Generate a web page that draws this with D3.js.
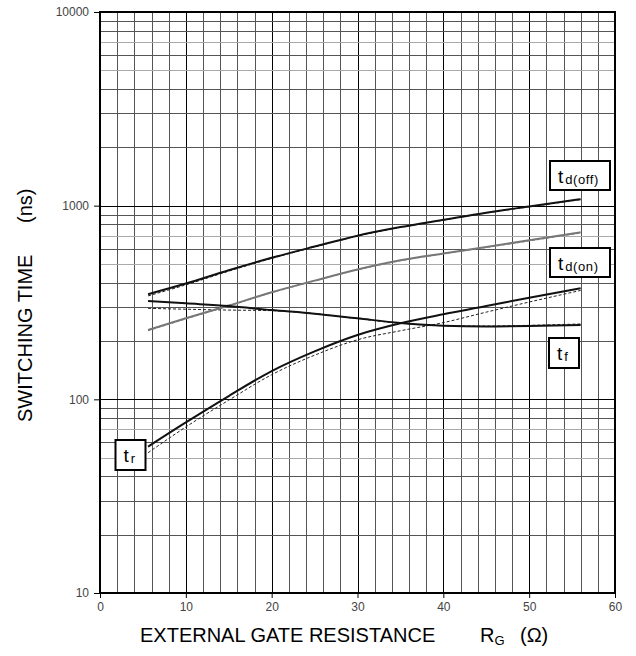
<!DOCTYPE html>
<html><head><meta charset="utf-8">
<script src="https://cdn.jsdelivr.net/npm/d3@7"></script>
<style>
body{margin:0;background:#fff}
svg{display:block}
text{font-family:"Liberation Sans",Arial,sans-serif}
</style>
</head><body>
<svg id="c" width="636" height="656"></svg>
<script>
// ---- data ----
const rg        = [5.6, 10, 15, 20, 25, 30, 35, 40, 45, 50, 56];
const tdOff     = [349, 396, 464, 538, 615, 700, 775, 845, 920, 990, 1080];
const tdOffDash = [342, 390, 459, 534, 612, 697, 772, 842, 917, 986, 1075];
const tdOn      = [228, 262, 305, 357, 410, 468, 522, 567, 612, 662, 729];
const tdOnDash  = [226, 260, 303, 355, 408, 466, 519, 564, 608, 657, 722];
const tf        = [322, 313, 303, 289, 277, 262, 248, 240, 238, 239, 242];
const tfDash    = [295, 292, 289, 287, 277, 261, 247, 240, 239, 241, 245];
const tr        = [57, 76, 104, 140, 177, 215, 247, 275, 303, 335, 375];
const trDash    = [53, 72, 99, 134, 169, 203, 226, 249, 282, 318, 365];
const xTickLabels = [0, 10, 20, 30, 40, 50, 60];
const yTickLabels = [10, 100, 1000, 10000];

const svg = d3.select("#c");
const L = 100, R = 615, T = 12, B = 593;
const x = d3.scaleLinear().domain([0, 60]).range([L, R]);
const y = d3.scaleLog().domain([10, 10000]).range([B, T]);
const px = v => Math.round(x(v)) + 0.5;
const py = v => Math.round(y(v)) + 0.5;

const grid = svg.append("g");
// vertical grid
d3.range(2, 60, 2).forEach(v => {
  const major = v % 10 === 0;
  grid.append("line").attr("x1", px(v)).attr("x2", px(v)).attr("y1", T).attr("y2", B)
    .attr("stroke", major ? "#000" : "#555").attr("stroke-width", 1);
});
// horizontal grid
[10, 100, 1000].forEach(d => {
  d3.range(2, 10).forEach(k => {
    const v = k * d;
    const light = (k === 5 || k === 7);
    grid.append("line").attr("x1", L).attr("x2", R).attr("y1", py(v)).attr("y2", py(v))
      .attr("stroke", light ? "#aaa" : "#555").attr("stroke-width", 1);
  });
});
[100, 1000].forEach(v => {
  grid.append("line").attr("x1", L).attr("x2", R).attr("y1", py(v)).attr("y2", py(v))
    .attr("stroke", "#000").attr("stroke-width", 1);
});

// axes
const xAxis = d3.axisBottom(x).tickValues(xTickLabels).tickSize(5).tickPadding(4).tickFormat(d3.format("d"));
const gx = svg.append("g").attr("transform", `translate(0,${B})`).call(xAxis);
gx.select(".domain").remove();
gx.selectAll("text").attr("font-size", 12).attr("fill", "#444").attr("font-family", '"Liberation Sans",Arial,sans-serif');
gx.selectAll("line").attr("stroke", "#000");

const yAxis = d3.axisLeft(y).tickValues(yTickLabels).tickSize(6).tickPadding(5).tickFormat(d3.format("d"));
const gy = svg.append("g").attr("transform", `translate(${L},0)`).call(yAxis);
gy.select(".domain").remove();
gy.selectAll("text").attr("font-size", 12).attr("fill", "#444").attr("font-family", '"Liberation Sans",Arial,sans-serif');
gy.selectAll("line").attr("stroke", "#000");

// frame
svg.append("rect").attr("x", L).attr("y", T).attr("width", R - L).attr("height", B - T)
  .attr("fill", "none").attr("stroke", "#000").attr("stroke-width", 2);

// curves
const mk = arr => d3.line().x((d, i) => x(rg[i])).y(d => y(d)).curve(d3.curveMonotoneX)(arr);
const curves = [
  {d: tdOffDash, c: "#222", w: 1, dash: "3,2"},
  {d: tdOnDash,  c: "#888", w: 1, dash: "3,2"},
  {d: tfDash,    c: "#222", w: 1, dash: "3,2"},
  {d: trDash,    c: "#222", w: 1, dash: "3,2"},
  {d: tdOff, c: "#111", w: 2},
  {d: tdOn,  c: "#777", w: 2},
  {d: tf,    c: "#111", w: 2},
  {d: tr,    c: "#111", w: 2},
];
curves.forEach(k => {
  svg.append("path").attr("d", mk(k.d)).attr("fill", "none").attr("stroke", k.c)
    .attr("stroke-width", k.w).attr("stroke-dasharray", k.dash || null);
});

// labels
function label(bx, by, bw, bh, sub) {
  svg.append("rect").attr("x", bx).attr("y", by).attr("width", bw).attr("height", bh)
    .attr("fill", "#fff").attr("stroke", "#000").attr("stroke-width", 2);
  const t = svg.append("text").attr("x", bx + 8).attr("y", by + 22).attr("font-size", 19).attr("fill", "#000");
  t.append("tspan").text("t");
  t.append("tspan").attr("font-size", 13).attr("dy", 1).attr("dx", 2).attr("letter-spacing", 0.6).text(sub);
}
label(550, 161, 60, 29, "d(off)");
label(550, 248, 60, 29, "d(on)");
label(549, 338, 30, 30, "f");
label(115.5, 440, 30, 30, "r");

// axis titles
svg.append("text").attr("x", 140).attr("y", 642).attr("font-size", 20).attr("fill", "#000")
  .text("EXTERNAL GATE RESISTANCE");
const rgT = svg.append("text").attr("x", 480).attr("y", 642).attr("font-size", 20).attr("fill", "#000");
rgT.append("tspan").text("R");
rgT.append("tspan").attr("font-size", 13).attr("dy", 3).text("G");
svg.append("text").attr("x", 520).attr("y", 642).attr("font-size", 20).attr("fill", "#000").text("(Ω)");

svg.append("text").attr("transform", "translate(32,422) rotate(-90)").attr("font-size", 20).attr("fill", "#000")
  .text("SWITCHING TIME");
svg.append("text").attr("transform", "translate(32,223) rotate(-90)").attr("font-size", 20).attr("fill", "#000")
  .text("(ns)");
</script>
</body></html>
